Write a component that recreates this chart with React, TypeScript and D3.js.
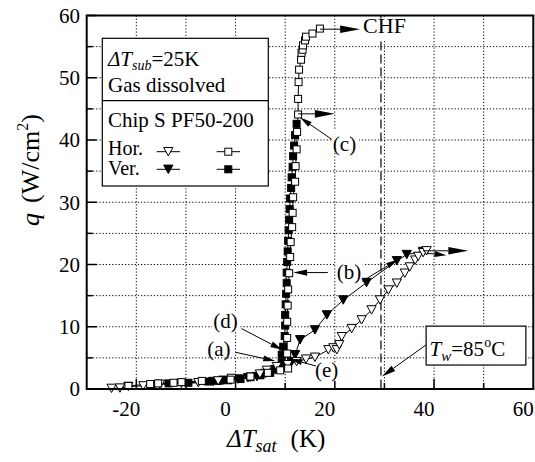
import React from "react";
import * as d3 from "d3";

// ---- data (ΔT_sat in K, q in W/cm²) ----
const horTri: [number, number][] = [
  [-25.0, 0.1], [-23.3, 0.15], [-21.6, 0.4], [-18.6, 0.5], [-15.2, 0.75], [-10.9, 0.9],
  [-7.5, 1.0], [-3.5, 1.3], [-0.8, 1.7], [3.0, 1.9], [4.9, 2.4], [6.3, 3.0], [8.3, 3.6],
  [10.5, 3.9], [12.3, 4.4], [14.2, 4.8], [16.0, 5.1], [18.7, 6.3], [19.7, 6.6], [20.4, 6.3],
  [20.9, 7.1], [21.4, 8.4], [23.4, 9.7], [25.4, 11.1], [27.4, 12.7], [29.1, 14.3], [30.8, 15.9],
  [32.5, 17.0], [34.1, 18.6], [35.1, 19.6], [36.2, 20.7], [36.8, 21.3], [37.8, 21.9], [38.5, 22.2],
];
const verTri: [number, number][] = [
  [-4.5, 1.2], [-2.5, 1.4], [0.5, 1.6], [2.5, 1.8], [4.3, 2.0], [6.0, 2.5], [8.0, 3.1],
  [9.8, 3.6], [11.3, 4.4], [12.0, 5.5], [13.0, 7.9], [16.0, 9.5], [18.4, 11.9], [21.7, 14.3],
  [26.4, 17.1], [32.5, 20.6], [34.5, 21.6], [37.8, 22.1],
];
const horSq: [number, number][] = [
  [-21.6, 0.5], [-17.2, 0.8], [-15.6, 0.9], [-12.5, 1.0], [-10.9, 1.1], [-6.8, 1.3], [-1.0, 1.5],
  [3.0, 2.0], [6.5, 2.6], [9.0, 3.0], [10.6, 3.3], [10.4, 5.7], [10.4, 8.2], [10.4, 10.8],
  [10.5, 13.4], [10.6, 16.0], [10.8, 18.6], [11.0, 21.2], [11.1, 23.6], [11.4, 26.0], [11.5, 28.3],
  [11.6, 30.8], [12.0, 33.3], [12.1, 35.8], [12.3, 38.5], [12.4, 41.3], [12.6, 44.1], [12.6, 46.6],
  [12.7, 49.3], [12.8, 51.3], [13.2, 52.9], [13.3, 54.0], [13.5, 54.5], [13.6, 55.2], [14.0, 56.0],
  [14.2, 56.6], [15.5, 57.1], [17.0, 57.9],
];
const verSq: [number, number][] = [
  [-16.9, 0.8], [-13.5, 0.9], [-9.5, 1.0], [-5.5, 1.2], [-3.5, 1.3], [-1.5, 1.4], [1.0, 1.6],
  [3.0, 1.9], [5.0, 2.2], [7.0, 2.6], [8.5, 3.2], [9.3, 4.2], [9.3, 5.5], [9.6, 6.8],
  [9.9, 8.5], [10.0, 10.2], [10.0, 11.9], [10.1, 13.6], [10.2, 15.3], [10.3, 17.0], [10.3, 18.7],
  [10.4, 20.4], [10.5, 22.1], [10.6, 23.8], [10.7, 25.5], [10.8, 27.2], [10.9, 28.9], [11.0, 30.6],
  [11.2, 32.3], [11.3, 34.0], [11.5, 35.7], [11.6, 37.4], [11.8, 39.1], [12.0, 40.8], [12.3, 42.6],
];
const xTicks = [-20, 0, 20, 40, 60];
const xGrid = [-20, -10, 0, 10, 20, 30, 40, 50];
const yTicks = [0, 10, 20, 30, 40, 50, 60];
const yGrid = [5, 10, 15, 20, 25, 30, 35, 40, 45, 50, 55];
const tWallLine = 29.3;

const FONT = "Liberation Serif, Tinos, Times New Roman, DejaVu Serif, serif";

const x = d3.scaleLinear().domain([-30, 60]).range([86.7, 533.3]);
const y = d3.scaleLinear().domain([0, 60]).range([389, 15.5]);

function TriDown({ cx, cy, filled }: { cx: number; cy: number; filled: boolean }) {
  const w = 4.6, h = 4.2;
  return (
    <path
      d={`M${cx - w},${cy - h}L${cx + w},${cy - h}L${cx},${cy + h}Z`}
      fill={filled ? "#000" : "#fff"}
      stroke="#000"
      strokeWidth={1}
    />
  );
}
function Sq({ cx, cy, filled }: { cx: number; cy: number; filled: boolean }) {
  const s = 7;
  return (
    <rect x={cx - s / 2} y={cy - s / 2} width={s} height={s} fill={filled ? "#000" : "#fff"} stroke="#000" strokeWidth={1} />
  );
}

function Arrow({ x1, y1, x2, y2, len = 13, wid = 3.2 }: { x1: number; y1: number; x2: number; y2: number; len?: number; wid?: number }) {
  const dx = x2 - x1, dy = y2 - y1;
  const L = Math.hypot(dx, dy);
  const ux = dx / L, uy = dy / L;
  const bx = x2 - ux * len, by = y2 - uy * len;
  const px = -uy * wid, py = ux * wid;
  return (
    <g>
      <line x1={x1} y1={y1} x2={bx} y2={by} stroke="#000" strokeWidth={1} />
      <path d={`M${x2},${y2}L${bx + px},${by + py}L${bx - px},${by - py}Z`} fill="#000" />
    </g>
  );
}

const line = d3.line<[number, number]>().x((d) => x(d[0])).y((d) => y(d[1]));

export default function App() {
  const X0 = x(-30), X1 = x(60), Y0 = y(0), Y1 = y(60);
  return (
    <svg width={535} height={462} style={{ position: "absolute", left: 0, top: 0, background: "#fff", fontFamily: FONT }}>
      <rect width={535} height={462} fill="#fff" />
      {/* grid */}
      {xGrid.map((v) => (
        <line key={"gx" + v} x1={x(v)} x2={x(v)} y1={Y1} y2={Y0} stroke="#000" strokeWidth={1} strokeDasharray="1.2,2" />
      ))}
      {yGrid.map((v) => (
        <line key={"gy" + v} x1={X0} x2={X1} y1={y(v)} y2={y(v)} stroke="#000" strokeWidth={1} strokeDasharray="1.2,2" />
      ))}
      {/* T_w dashed line */}
      <line x1={x(tWallLine)} x2={x(tWallLine)} y1={Y1} y2={Y0} stroke="#000" strokeWidth={1.2} strokeDasharray="9,4" />

      {/* ticks */}
      {yGrid.concat([0, 60]).map((v) => (
        <line key={"ty" + v} x1={X0} x2={X0 + (v % 10 === 0 ? 10 : 6)} y1={y(v)} y2={y(v)} stroke="#000" strokeWidth={1.5} />
      ))}
      {xGrid.map((v) => (
        <line key={"tx" + v} x1={x(v)} x2={x(v)} y1={Y0} y2={Y0 - (v % 20 === 0 ? 10 : 6)} stroke="#000" strokeWidth={1.5} />
      ))}

      {/* data lines */}
      {[verSq, horSq, verTri, horTri].map((s, i) => (
        <path key={"l" + i} d={line(s) || ""} fill="none" stroke="#000" strokeWidth={1} />
      ))}
      {verSq.map((d, i) => <Sq key={"vs" + i} cx={x(d[0])} cy={y(d[1])} filled />)}
      {verTri.map((d, i) => <TriDown key={"vt" + i} cx={x(d[0])} cy={y(d[1])} filled />)}
      {horTri.map((d, i) => <TriDown key={"ht" + i} cx={x(d[0])} cy={y(d[1])} filled={false} />)}
      {horSq.map((d, i) => <Sq key={"hs" + i} cx={x(d[0])} cy={y(d[1])} filled={false} />)}

      {/* frame */}
      <rect x={X0} y={Y1} width={X1 - X0} height={Y0 - Y1} fill="none" stroke="#000" strokeWidth={2} />

      {/* tick labels */}
      {xTicks.map((v) => (
        <text key={"xl" + v} x={x(v) - 10} y={416} fontSize={21} textAnchor="middle">{v}</text>
      ))}
      {yTicks.map((v) => (
        <text key={"yl" + v} x={80} y={y(v)} dy="0.35em" fontSize={21} textAnchor="end">{v}</text>
      ))}

      {/* axis titles */}
      <text x={227} y={447} fontSize={25}>
        <tspan fontStyle="italic">ΔT</tspan>
        <tspan fontStyle="italic" fontSize={18} dy={5}>sat</tspan>
        <tspan dy={-5} dx={14}>(K)</tspan>
      </text>
      <text transform="translate(39,170) rotate(-90)" fontSize={26} textAnchor="middle">
        <tspan fontStyle="italic">q</tspan>
        <tspan dx={10}>(W/cm</tspan>
        <tspan fontSize={16} dy={-11}>2</tspan>
        <tspan dy={11}>)</tspan>
      </text>

      {/* legend */}
      <rect x={102.3} y={38.3} width={166} height={147.7} fill="#fff" stroke="#000" strokeWidth={1.2} />
      <line x1={102.3} x2={268.3} y1={100.7} y2={100.7} stroke="#000" strokeWidth={1.2} />
      <text x={108} y={66} fontSize={21}>
        <tspan fontStyle="italic">ΔT</tspan>
        <tspan fontStyle="italic" fontSize={14} dy={4}>sub</tspan>
        <tspan dy={-4}>=25K</tspan>
      </text>
      <text x={108} y={92} fontSize={21}>Gas dissolved</text>
      <text x={108} y={127} fontSize={21}>Chip S PF50-200</text>
      <text x={108} y={155} fontSize={20}>Hor.</text>
      <text x={108} y={175} fontSize={20}>Ver.</text>
      <line x1={156.7} x2={180} y1={151.7} y2={151.7} stroke="#000" />
      <TriDown cx={168.3} cy={151.7} filled={false} />
      <line x1={216.7} x2={240} y1={151.7} y2={151.7} stroke="#000" />
      <Sq cx={228.3} cy={151.7} filled={false} />
      <line x1={156.7} x2={180} y1={169.3} y2={169.3} stroke="#000" />
      <TriDown cx={168.3} cy={169.3} filled />
      <line x1={216.7} x2={240} y1={169.3} y2={169.3} stroke="#000" />
      <Sq cx={228.3} cy={169.3} filled />

      {/* annotations */}
      <Arrow x1={x(17.0)} y1={y(57.8)} x2={x(25.1)} y2={y(57.8)} len={20} wid={3.8} />
      <rect x={x(25.4)} y={y(60) + 3} width={50} height={22} fill="#fff" />
      <text x={x(25.7)} y={y(57.3) + 0.5} fontSize={22}>CHF</text>

      <Arrow x1={x(12.6)} y1={y(44.2)} x2={x(20.0)} y2={y(44.2)} len={20} wid={3.8} />
      <rect x={x(19.4)} y={y(41.6)} width={27} height={22} fill="#fff" />
      <text x={x(19.6)} y={y(38.2)} fontSize={21}>(c)</text>
      <Arrow x1={x(19.4)} y1={y(40.1)} x2={x(13.0)} y2={y(43.6)} len={12} wid={3} />

      <Arrow x1={x(18.6)} y1={y(18.7)} x2={x(11.6)} y2={y(18.7)} len={14} wid={3.2} />
      <rect x={x(20.2)} y={y(21.4)} width={27} height={21} fill="#fff" />
      <text x={x(20.4)} y={y(17.6)} fontSize={21}>(b)</text>
      <Arrow x1={x(25.5)} y1={y(17.3)} x2={x(32.7)} y2={y(20.8)} len={12} wid={3} />

      <rect x={x(-4.7)} y={y(12.6)} width={28} height={20} fill="#fff" />
      <text x={x(-4.5)} y={y(9.8)} fontSize={21}>(d)</text>
      <Arrow x1={x(1.2)} y1={y(9.7)} x2={x(9.4)} y2={y(6.3)} len={12} wid={3} />
      <rect x={x(-5.9)} y={y(8.3)} width={28} height={18} fill="#fff" />
      <text x={x(-5.7)} y={y(5.3)} fontSize={21}>(a)</text>
      <Arrow x1={x(0.0)} y1={y(5.9)} x2={x(8.0)} y2={y(4.5)} len={12} wid={3} />

      <rect x={x(15.8)} y={y(4.2)} width={27} height={18} fill="#fff" />
      <text x={x(16.0)} y={y(1.9)} fontSize={21}>(e)</text>
      <Arrow x1={x(16.2)} y1={y(3.7)} x2={x(11.0)} y2={y(4.8)} len={12} wid={3} />

      <Arrow x1={x(37.8)} y1={y(22.2)} x2={x(46.9)} y2={y(22.2)} len={20} wid={3.8} />
      <Arrow x1={x(38.5)} y1={y(21.8)} x2={x(42.5)} y2={y(21.5)} len={12} wid={3} />

      <rect x={x(38.4)} y={y(10.1)} width={x(58.5) - x(38.4)} height={y(3.85) - y(10.1)} fill="#fff" stroke="#000" strokeWidth={1.2} />
      <text x={x(39.1)} y={y(5.3)} fontSize={21}>
        <tspan fontStyle="italic">T</tspan>
        <tspan fontStyle="italic" fontSize={15} dy={5}>w</tspan>
        <tspan dy={-5}>=85</tspan>
        <tspan fontSize={14} dy={-9}>o</tspan>
        <tspan dy={9}>C</tspan>
      </text>
      <Arrow x1={x(38.4)} y1={y(7.1)} x2={x(29.5)} y2={y(2.0)} len={14} wid={3.2} />
    </svg>
  );
}
